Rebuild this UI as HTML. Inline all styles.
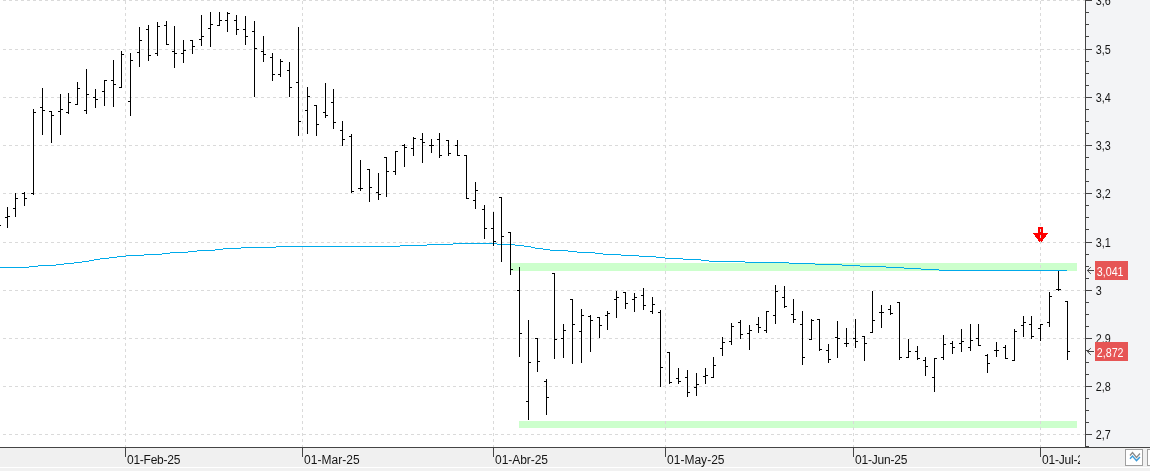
<!DOCTYPE html>
<html><head><meta charset="utf-8"><title>Chart</title>
<style>
html,body{margin:0;padding:0;background:#fff;}
body{width:1150px;height:471px;overflow:hidden;position:relative;font-family:"Liberation Sans",sans-serif;}
svg{position:absolute;left:0;top:0;display:block;}
.ax{font-family:"Liberation Sans",sans-serif;font-size:12.5px;fill:#151515;}
.dt{font-family:"Liberation Sans",sans-serif;font-size:12px;letter-spacing:-0.25px;fill:#151515;}
.tag{font-family:"Liberation Sans",sans-serif;font-size:12.5px;fill:#fff;}
</style></head><body>
<svg width="1150" height="471" viewBox="0 0 1150 471">

<rect x="0" y="0" width="1150" height="471" fill="#ffffff"/>
<rect x="1086" y="0" width="64" height="447" fill="#f3f4f6"/>
<rect x="0" y="448" width="1150" height="19" fill="#f0f0f0"/>
<rect x="0" y="467" width="1150" height="1" fill="#ffffff"/>
<rect x="0" y="468" width="1150" height="3" fill="#f1f1f1"/>
<rect x="511" y="263" width="566" height="8" fill="#ccffcc" shape-rendering="crispEdges"/>
<rect x="519" y="421" width="558" height="7" fill="#ccffcc" shape-rendering="crispEdges"/>
<g fill="#fe0000" shape-rendering="crispEdges"><rect x="1038" y="227" width="5" height="7"/>
<rect x="1033" y="233" width="15" height="1"/>
<rect x="1034" y="234" width="13" height="1"/>
<rect x="1035" y="235" width="11" height="1"/>
<rect x="1035" y="236" width="11" height="1"/>
<rect x="1036" y="237" width="9" height="1"/>
<rect x="1037" y="238" width="7" height="1"/>
<rect x="1038" y="239" width="5" height="1"/>
<rect x="1038" y="240" width="5" height="1"/>
<rect x="1039" y="241" width="3" height="1"/>
</g>
<g shape-rendering="crispEdges" stroke="#dadada" stroke-width="1" stroke-dasharray="3 3" fill="none">
<line x1="3" y1="0.5" x2="1085" y2="0.5"/>
<line x1="3" y1="49.5" x2="1085" y2="49.5"/>
<line x1="3" y1="97.5" x2="1085" y2="97.5"/>
<line x1="3" y1="145.5" x2="1085" y2="145.5"/>
<line x1="3" y1="193.5" x2="1085" y2="193.5"/>
<line x1="3" y1="242.5" x2="1085" y2="242.5"/>
<line x1="3" y1="290.5" x2="1085" y2="290.5"/>
<line x1="3" y1="338.5" x2="1085" y2="338.5"/>
<line x1="3" y1="386.5" x2="1085" y2="386.5"/>
<line x1="3" y1="434.5" x2="1085" y2="434.5"/>
<line x1="125.5" y1="1" x2="125.5" y2="447"/>
<line x1="302.5" y1="1" x2="302.5" y2="447"/>
<line x1="493.5" y1="1" x2="493.5" y2="447"/>
<line x1="665.5" y1="1" x2="665.5" y2="447"/>
<line x1="853.5" y1="1" x2="853.5" y2="447"/>
<line x1="1040.5" y1="1" x2="1040.5" y2="447"/>
</g>
<g shape-rendering="crispEdges" fill="#00aaea">
<rect x="0" y="267" width="29" height="1"/>
<rect x="29" y="266" width="9" height="1"/>
<rect x="38" y="265" width="18" height="1"/>
<rect x="56" y="264" width="8" height="1"/>
<rect x="64" y="263" width="10" height="1"/>
<rect x="74" y="262" width="8" height="1"/>
<rect x="82" y="261" width="7" height="1"/>
<rect x="89" y="260" width="5" height="1"/>
<rect x="94" y="259" width="6" height="1"/>
<rect x="100" y="258" width="9" height="1"/>
<rect x="109" y="257" width="8" height="1"/>
<rect x="117" y="256" width="9" height="1"/>
<rect x="126" y="255" width="18" height="1"/>
<rect x="144" y="254" width="18" height="1"/>
<rect x="162" y="253" width="8" height="1"/>
<rect x="170" y="252" width="18" height="1"/>
<rect x="188" y="251" width="9" height="1"/>
<rect x="197" y="250" width="18" height="1"/>
<rect x="215" y="249" width="8" height="1"/>
<rect x="223" y="248" width="18" height="1"/>
<rect x="241" y="247" width="35" height="1"/>
<rect x="276" y="246" width="124" height="1"/>
<rect x="400" y="245" width="27" height="1"/>
<rect x="427" y="244" width="26" height="1"/>
<rect x="453" y="243" width="44" height="1"/>
<rect x="497" y="244" width="18" height="1"/>
<rect x="515" y="245" width="9" height="1"/>
<rect x="524" y="246" width="7" height="1"/>
<rect x="531" y="247" width="4" height="1"/>
<rect x="535" y="248" width="8" height="1"/>
<rect x="543" y="249" width="7" height="1"/>
<rect x="550" y="250" width="18" height="1"/>
<rect x="568" y="251" width="9" height="1"/>
<rect x="577" y="252" width="18" height="1"/>
<rect x="595" y="253" width="8" height="1"/>
<rect x="603" y="254" width="18" height="1"/>
<rect x="621" y="255" width="18" height="1"/>
<rect x="639" y="256" width="17" height="1"/>
<rect x="656" y="257" width="9" height="1"/>
<rect x="665" y="258" width="18" height="1"/>
<rect x="683" y="259" width="18" height="1"/>
<rect x="701" y="260" width="8" height="1"/>
<rect x="709" y="261" width="36" height="1"/>
<rect x="745" y="262" width="44" height="1"/>
<rect x="789" y="263" width="26" height="1"/>
<rect x="815" y="264" width="27" height="1"/>
<rect x="842" y="265" width="18" height="1"/>
<rect x="860" y="266" width="26" height="1"/>
<rect x="886" y="267" width="18" height="1"/>
<rect x="904" y="268" width="17" height="1"/>
<rect x="921" y="269" width="18" height="1"/>
<rect x="939" y="270" width="128" height="1"/>
</g>
<g shape-rendering="crispEdges" fill="#000000">
<rect x="-1" y="225" width="2" height="1"/>
<rect x="7" y="207" width="1" height="21"/><rect x="5" y="217" width="2" height="1"/><rect x="8" y="216" width="2" height="1"/>
<rect x="15" y="193" width="1" height="24"/><rect x="13" y="208" width="2" height="1"/><rect x="16" y="198" width="2" height="1"/>
<rect x="24" y="192" width="1" height="14"/><rect x="22" y="193" width="2" height="1"/><rect x="25" y="198" width="2" height="1"/>
<rect x="33" y="109" width="1" height="86"/><rect x="31" y="193" width="2" height="1"/><rect x="34" y="112" width="2" height="1"/>
<rect x="42" y="88" width="1" height="47"/><rect x="40" y="107" width="2" height="1"/><rect x="43" y="110" width="2" height="1"/>
<rect x="51" y="111" width="1" height="32"/><rect x="49" y="111" width="2" height="1"/><rect x="52" y="115" width="2" height="1"/>
<rect x="60" y="94" width="1" height="41"/><rect x="58" y="111" width="2" height="1"/><rect x="61" y="109" width="2" height="1"/>
<rect x="68" y="93" width="1" height="21"/><rect x="66" y="112" width="2" height="1"/><rect x="69" y="102" width="2" height="1"/>
<rect x="77" y="82" width="1" height="23"/><rect x="75" y="104" width="2" height="1"/><rect x="78" y="88" width="2" height="1"/>
<rect x="86" y="69" width="1" height="45"/><rect x="84" y="110" width="2" height="1"/><rect x="87" y="94" width="2" height="1"/>
<rect x="95" y="89" width="1" height="19"/><rect x="93" y="97" width="2" height="1"/><rect x="96" y="99" width="2" height="1"/>
<rect x="104" y="80" width="1" height="26"/><rect x="102" y="91" width="2" height="1"/><rect x="105" y="80" width="2" height="1"/>
<rect x="113" y="60" width="1" height="47"/><rect x="111" y="80" width="2" height="1"/><rect x="114" y="84" width="2" height="1"/>
<rect x="121" y="51" width="1" height="37"/><rect x="119" y="87" width="2" height="1"/><rect x="122" y="54" width="2" height="1"/>
<rect x="130" y="53" width="1" height="63"/><rect x="128" y="101" width="2" height="1"/><rect x="131" y="60" width="2" height="1"/>
<rect x="139" y="27" width="1" height="40"/><rect x="137" y="52" width="2" height="1"/><rect x="140" y="40" width="2" height="1"/>
<rect x="148" y="25" width="1" height="36"/><rect x="146" y="29" width="2" height="1"/><rect x="149" y="55" width="2" height="1"/>
<rect x="157" y="22" width="1" height="34"/><rect x="155" y="53" width="2" height="1"/><rect x="158" y="26" width="2" height="1"/>
<rect x="166" y="21" width="1" height="24"/><rect x="164" y="25" width="2" height="1"/><rect x="167" y="44" width="2" height="1"/>
<rect x="174" y="26" width="1" height="42"/><rect x="172" y="51" width="2" height="1"/><rect x="175" y="53" width="2" height="1"/>
<rect x="183" y="40" width="1" height="23"/><rect x="181" y="53" width="2" height="1"/><rect x="184" y="50" width="2" height="1"/>
<rect x="192" y="40" width="1" height="14"/><rect x="190" y="40" width="2" height="1"/><rect x="193" y="46" width="2" height="1"/>
<rect x="201" y="15" width="1" height="31"/><rect x="199" y="39" width="2" height="1"/><rect x="202" y="36" width="2" height="1"/>
<rect x="210" y="12" width="1" height="35"/><rect x="208" y="28" width="2" height="1"/><rect x="211" y="24" width="2" height="1"/>
<rect x="219" y="12" width="1" height="14"/><rect x="217" y="25" width="2" height="1"/><rect x="220" y="20" width="2" height="1"/>
<rect x="227" y="12" width="1" height="20"/><rect x="225" y="20" width="2" height="1"/><rect x="228" y="13" width="2" height="1"/>
<rect x="236" y="15" width="1" height="20"/><rect x="234" y="20" width="2" height="1"/><rect x="237" y="29" width="2" height="1"/>
<rect x="245" y="16" width="1" height="29"/><rect x="243" y="29" width="2" height="1"/><rect x="246" y="36" width="2" height="1"/>
<rect x="254" y="21" width="1" height="76"/><rect x="252" y="31" width="2" height="1"/><rect x="255" y="48" width="2" height="1"/>
<rect x="263" y="36" width="1" height="26"/><rect x="261" y="51" width="2" height="1"/><rect x="264" y="54" width="2" height="1"/>
<rect x="272" y="53" width="1" height="28"/><rect x="270" y="57" width="2" height="1"/><rect x="273" y="74" width="2" height="1"/>
<rect x="280" y="59" width="1" height="18"/><rect x="278" y="74" width="2" height="1"/><rect x="281" y="61" width="2" height="1"/>
<rect x="289" y="62" width="1" height="35"/><rect x="287" y="70" width="2" height="1"/><rect x="290" y="87" width="2" height="1"/>
<rect x="298" y="27" width="1" height="109"/><rect x="296" y="82" width="2" height="1"/><rect x="299" y="121" width="2" height="1"/>
<rect x="307" y="87" width="1" height="47"/><rect x="305" y="110" width="2" height="1"/><rect x="308" y="96" width="2" height="1"/>
<rect x="316" y="105" width="1" height="31"/><rect x="314" y="105" width="2" height="1"/><rect x="317" y="124" width="2" height="1"/>
<rect x="325" y="83" width="1" height="35"/><rect x="323" y="112" width="2" height="1"/><rect x="326" y="115" width="2" height="1"/>
<rect x="333" y="89" width="1" height="40"/><rect x="331" y="102" width="2" height="1"/><rect x="334" y="122" width="2" height="1"/>
<rect x="342" y="121" width="1" height="25"/><rect x="340" y="130" width="2" height="1"/><rect x="343" y="139" width="2" height="1"/>
<rect x="351" y="134" width="1" height="59"/><rect x="349" y="136" width="2" height="1"/><rect x="352" y="191" width="2" height="1"/>
<rect x="360" y="160" width="1" height="31"/><rect x="358" y="188" width="2" height="1"/><rect x="361" y="188" width="2" height="1"/>
<rect x="369" y="169" width="1" height="33"/><rect x="367" y="169" width="2" height="1"/><rect x="370" y="187" width="2" height="1"/>
<rect x="378" y="173" width="1" height="27"/><rect x="376" y="192" width="2" height="1"/><rect x="379" y="194" width="2" height="1"/>
<rect x="386" y="157" width="1" height="40"/><rect x="384" y="157" width="2" height="1"/><rect x="387" y="171" width="2" height="1"/>
<rect x="395" y="151" width="1" height="24"/><rect x="393" y="171" width="2" height="1"/><rect x="396" y="151" width="2" height="1"/>
<rect x="404" y="144" width="1" height="23"/><rect x="402" y="145" width="2" height="1"/><rect x="405" y="147" width="2" height="1"/>
<rect x="413" y="137" width="1" height="19"/><rect x="411" y="148" width="2" height="1"/><rect x="414" y="138" width="2" height="1"/>
<rect x="422" y="133" width="1" height="30"/><rect x="420" y="139" width="2" height="1"/><rect x="423" y="142" width="2" height="1"/>
<rect x="431" y="139" width="1" height="14"/><rect x="429" y="145" width="2" height="1"/><rect x="432" y="145" width="2" height="1"/>
<rect x="439" y="133" width="1" height="25"/><rect x="437" y="139" width="2" height="1"/><rect x="440" y="155" width="2" height="1"/>
<rect x="448" y="140" width="1" height="16"/><rect x="446" y="140" width="2" height="1"/><rect x="449" y="153" width="2" height="1"/>
<rect x="457" y="140" width="1" height="16"/><rect x="455" y="145" width="2" height="1"/><rect x="458" y="155" width="2" height="1"/>
<rect x="466" y="155" width="1" height="44"/><rect x="464" y="155" width="2" height="1"/><rect x="467" y="198" width="2" height="1"/>
<rect x="475" y="182" width="1" height="27"/><rect x="473" y="200" width="2" height="1"/><rect x="476" y="190" width="2" height="1"/>
<rect x="484" y="205" width="1" height="34"/><rect x="482" y="209" width="2" height="1"/><rect x="485" y="228" width="2" height="1"/>
<rect x="493" y="212" width="1" height="34"/><rect x="491" y="228" width="2" height="1"/><rect x="494" y="241" width="2" height="1"/>
<rect x="501" y="197" width="1" height="65"/><rect x="499" y="197" width="2" height="1"/><rect x="502" y="236" width="2" height="1"/>
<rect x="510" y="232" width="1" height="43"/><rect x="508" y="232" width="2" height="1"/><rect x="511" y="269" width="2" height="1"/>
<rect x="519" y="267" width="1" height="90"/><rect x="517" y="290" width="2" height="1"/><rect x="520" y="333" width="2" height="1"/>
<rect x="528" y="320" width="1" height="100"/><rect x="526" y="401" width="2" height="1"/><rect x="529" y="362" width="2" height="1"/>
<rect x="537" y="338" width="1" height="34"/><rect x="535" y="338" width="2" height="1"/><rect x="538" y="361" width="2" height="1"/>
<rect x="546" y="379" width="1" height="36"/><rect x="544" y="381" width="2" height="1"/><rect x="547" y="397" width="2" height="1"/>
<rect x="554" y="273" width="1" height="86"/><rect x="552" y="273" width="2" height="1"/><rect x="555" y="339" width="2" height="1"/>
<rect x="563" y="324" width="1" height="34"/><rect x="561" y="338" width="2" height="1"/><rect x="564" y="330" width="2" height="1"/>
<rect x="572" y="299" width="1" height="65"/><rect x="570" y="299" width="2" height="1"/><rect x="573" y="324" width="2" height="1"/>
<rect x="581" y="309" width="1" height="54"/><rect x="579" y="331" width="2" height="1"/><rect x="582" y="315" width="2" height="1"/>
<rect x="590" y="315" width="1" height="37"/><rect x="588" y="316" width="2" height="1"/><rect x="591" y="320" width="2" height="1"/>
<rect x="599" y="317" width="1" height="21"/><rect x="597" y="317" width="2" height="1"/><rect x="600" y="325" width="2" height="1"/>
<rect x="607" y="311" width="1" height="19"/><rect x="605" y="315" width="2" height="1"/><rect x="608" y="313" width="2" height="1"/>
<rect x="616" y="291" width="1" height="27"/><rect x="614" y="299" width="2" height="1"/><rect x="617" y="297" width="2" height="1"/>
<rect x="625" y="292" width="1" height="17"/><rect x="623" y="292" width="2" height="1"/><rect x="626" y="303" width="2" height="1"/>
<rect x="634" y="293" width="1" height="19"/><rect x="632" y="299" width="2" height="1"/><rect x="635" y="297" width="2" height="1"/>
<rect x="643" y="288" width="1" height="22"/><rect x="641" y="295" width="2" height="1"/><rect x="644" y="305" width="2" height="1"/>
<rect x="652" y="297" width="1" height="17"/><rect x="650" y="311" width="2" height="1"/><rect x="653" y="304" width="2" height="1"/>
<rect x="660" y="310" width="1" height="77"/><rect x="658" y="312" width="2" height="1"/><rect x="661" y="367" width="2" height="1"/>
<rect x="669" y="352" width="1" height="32"/><rect x="667" y="352" width="2" height="1"/><rect x="670" y="382" width="2" height="1"/>
<rect x="678" y="368" width="1" height="16"/><rect x="676" y="378" width="2" height="1"/><rect x="679" y="381" width="2" height="1"/>
<rect x="687" y="370" width="1" height="27"/><rect x="685" y="377" width="2" height="1"/><rect x="688" y="392" width="2" height="1"/>
<rect x="696" y="373" width="1" height="23"/><rect x="694" y="387" width="2" height="1"/><rect x="697" y="384" width="2" height="1"/>
<rect x="705" y="368" width="1" height="16"/><rect x="703" y="376" width="2" height="1"/><rect x="706" y="375" width="2" height="1"/>
<rect x="713" y="357" width="1" height="21"/><rect x="711" y="377" width="2" height="1"/><rect x="714" y="365" width="2" height="1"/>
<rect x="722" y="337" width="1" height="19"/><rect x="720" y="348" width="2" height="1"/><rect x="723" y="342" width="2" height="1"/>
<rect x="731" y="323" width="1" height="22"/><rect x="729" y="341" width="2" height="1"/><rect x="732" y="326" width="2" height="1"/>
<rect x="740" y="320" width="1" height="19"/><rect x="738" y="322" width="2" height="1"/><rect x="741" y="334" width="2" height="1"/>
<rect x="749" y="325" width="1" height="25"/><rect x="747" y="333" width="2" height="1"/><rect x="750" y="330" width="2" height="1"/>
<rect x="758" y="317" width="1" height="16"/><rect x="756" y="324" width="2" height="1"/><rect x="759" y="327" width="2" height="1"/>
<rect x="766" y="311" width="1" height="22"/><rect x="764" y="330" width="2" height="1"/><rect x="767" y="311" width="2" height="1"/>
<rect x="775" y="285" width="1" height="39"/><rect x="773" y="315" width="2" height="1"/><rect x="776" y="291" width="2" height="1"/>
<rect x="784" y="286" width="1" height="22"/><rect x="782" y="297" width="2" height="1"/><rect x="785" y="306" width="2" height="1"/>
<rect x="793" y="299" width="1" height="24"/><rect x="791" y="314" width="2" height="1"/><rect x="794" y="319" width="2" height="1"/>
<rect x="802" y="311" width="1" height="54"/><rect x="800" y="324" width="2" height="1"/><rect x="803" y="357" width="2" height="1"/>
<rect x="811" y="319" width="1" height="21"/><rect x="809" y="339" width="2" height="1"/><rect x="812" y="320" width="2" height="1"/>
<rect x="819" y="319" width="1" height="32"/><rect x="817" y="319" width="2" height="1"/><rect x="820" y="349" width="2" height="1"/>
<rect x="828" y="344" width="1" height="19"/><rect x="826" y="350" width="2" height="1"/><rect x="829" y="359" width="2" height="1"/>
<rect x="837" y="321" width="1" height="37"/><rect x="835" y="337" width="2" height="1"/><rect x="838" y="338" width="2" height="1"/>
<rect x="846" y="328" width="1" height="19"/><rect x="844" y="343" width="2" height="1"/><rect x="847" y="343" width="2" height="1"/>
<rect x="855" y="319" width="1" height="29"/><rect x="853" y="338" width="2" height="1"/><rect x="856" y="341" width="2" height="1"/>
<rect x="864" y="336" width="1" height="25"/><rect x="862" y="336" width="2" height="1"/><rect x="865" y="343" width="2" height="1"/>
<rect x="872" y="291" width="1" height="42"/><rect x="870" y="332" width="2" height="1"/><rect x="873" y="320" width="2" height="1"/>
<rect x="881" y="305" width="1" height="23"/><rect x="879" y="312" width="2" height="1"/><rect x="882" y="312" width="2" height="1"/>
<rect x="890" y="305" width="1" height="10"/><rect x="888" y="309" width="2" height="1"/><rect x="891" y="313" width="2" height="1"/>
<rect x="899" y="302" width="1" height="58"/><rect x="897" y="302" width="2" height="1"/><rect x="900" y="357" width="2" height="1"/>
<rect x="908" y="339" width="1" height="19"/><rect x="906" y="357" width="2" height="1"/><rect x="909" y="351" width="2" height="1"/>
<rect x="917" y="346" width="1" height="14"/><rect x="915" y="351" width="2" height="1"/><rect x="918" y="358" width="2" height="1"/>
<rect x="925" y="357" width="1" height="19"/><rect x="923" y="360" width="2" height="1"/><rect x="926" y="366" width="2" height="1"/>
<rect x="934" y="358" width="1" height="34"/><rect x="932" y="377" width="2" height="1"/><rect x="935" y="358" width="2" height="1"/>
<rect x="943" y="335" width="1" height="25"/><rect x="941" y="357" width="2" height="1"/><rect x="944" y="344" width="2" height="1"/>
<rect x="952" y="341" width="1" height="13"/><rect x="950" y="343" width="2" height="1"/><rect x="953" y="347" width="2" height="1"/>
<rect x="961" y="329" width="1" height="23"/><rect x="959" y="343" width="2" height="1"/><rect x="962" y="341" width="2" height="1"/>
<rect x="970" y="324" width="1" height="27"/><rect x="968" y="347" width="2" height="1"/><rect x="971" y="340" width="2" height="1"/>
<rect x="978" y="324" width="1" height="22"/><rect x="976" y="338" width="2" height="1"/><rect x="979" y="345" width="2" height="1"/>
<rect x="987" y="354" width="1" height="19"/><rect x="985" y="355" width="2" height="1"/><rect x="988" y="363" width="2" height="1"/>
<rect x="996" y="342" width="1" height="15"/><rect x="994" y="350" width="2" height="1"/><rect x="997" y="350" width="2" height="1"/>
<rect x="1005" y="345" width="1" height="14"/><rect x="1003" y="347" width="2" height="1"/><rect x="1006" y="358" width="2" height="1"/>
<rect x="1014" y="329" width="1" height="32"/><rect x="1012" y="360" width="2" height="1"/><rect x="1015" y="331" width="2" height="1"/>
<rect x="1023" y="316" width="1" height="21"/><rect x="1021" y="325" width="2" height="1"/><rect x="1024" y="322" width="2" height="1"/>
<rect x="1031" y="316" width="1" height="23"/><rect x="1029" y="324" width="2" height="1"/><rect x="1032" y="336" width="2" height="1"/>
<rect x="1040" y="324" width="1" height="17"/><rect x="1038" y="328" width="2" height="1"/><rect x="1041" y="324" width="2" height="1"/>
<rect x="1049" y="292" width="1" height="35"/><rect x="1047" y="322" width="2" height="1"/><rect x="1050" y="296" width="2" height="1"/>
<rect x="1058" y="271" width="1" height="20"/><rect x="1056" y="289" width="2" height="1"/><rect x="1059" y="289" width="2" height="1"/>
<rect x="1067" y="301" width="1" height="59"/><rect x="1065" y="301" width="2" height="1"/><rect x="1068" y="351" width="2" height="1"/>
</g>
<g shape-rendering="crispEdges" fill="#444444">
<rect x="1085" y="0" width="1" height="448"/>
<rect x="0" y="447" width="1150" height="1"/>
<rect x="1086" y="0" width="6" height="1"/>
<rect x="1086" y="12" width="3" height="1"/>
<rect x="1086" y="24" width="3" height="1"/>
<rect x="1086" y="36" width="3" height="1"/>
<rect x="1086" y="49" width="6" height="1"/>
<rect x="1086" y="61" width="3" height="1"/>
<rect x="1086" y="73" width="3" height="1"/>
<rect x="1086" y="85" width="3" height="1"/>
<rect x="1086" y="97" width="6" height="1"/>
<rect x="1086" y="109" width="3" height="1"/>
<rect x="1086" y="121" width="3" height="1"/>
<rect x="1086" y="133" width="3" height="1"/>
<rect x="1086" y="145" width="6" height="1"/>
<rect x="1086" y="157" width="3" height="1"/>
<rect x="1086" y="169" width="3" height="1"/>
<rect x="1086" y="181" width="3" height="1"/>
<rect x="1086" y="193" width="6" height="1"/>
<rect x="1086" y="205" width="3" height="1"/>
<rect x="1086" y="217" width="3" height="1"/>
<rect x="1086" y="229" width="3" height="1"/>
<rect x="1086" y="242" width="6" height="1"/>
<rect x="1086" y="254" width="3" height="1"/>
<rect x="1086" y="266" width="3" height="1"/>
<rect x="1086" y="278" width="3" height="1"/>
<rect x="1086" y="290" width="6" height="1"/>
<rect x="1086" y="302" width="3" height="1"/>
<rect x="1086" y="314" width="3" height="1"/>
<rect x="1086" y="326" width="3" height="1"/>
<rect x="1086" y="338" width="6" height="1"/>
<rect x="1086" y="350" width="3" height="1"/>
<rect x="1086" y="362" width="3" height="1"/>
<rect x="1086" y="374" width="3" height="1"/>
<rect x="1086" y="386" width="6" height="1"/>
<rect x="1086" y="398" width="3" height="1"/>
<rect x="1086" y="410" width="3" height="1"/>
<rect x="1086" y="422" width="3" height="1"/>
<rect x="1086" y="434" width="6" height="1"/>
<rect x="1086" y="446" width="3" height="1"/>
<rect x="125" y="448" width="1" height="9"/>
<rect x="302" y="448" width="1" height="9"/>
<rect x="493" y="448" width="1" height="9"/>
<rect x="665" y="448" width="1" height="9"/>
<rect x="853" y="448" width="1" height="9"/>
<rect x="1040" y="448" width="1" height="9"/>
</g>
<text class="ax" transform="translate(1095.8 5) scale(0.864 1)">3,6</text>
<text class="ax" transform="translate(1095.8 54) scale(0.864 1)">3,5</text>
<text class="ax" transform="translate(1095.8 102) scale(0.864 1)">3,4</text>
<text class="ax" transform="translate(1095.8 150) scale(0.864 1)">3,3</text>
<text class="ax" transform="translate(1095.8 198) scale(0.864 1)">3,2</text>
<text class="ax" transform="translate(1095.8 247) scale(0.864 1)">3,1</text>
<text class="ax" transform="translate(1095.8 295) scale(0.864 1)">3</text>
<text class="ax" transform="translate(1095.8 343) scale(0.864 1)">2,9</text>
<text class="ax" transform="translate(1095.8 391) scale(0.864 1)">2,8</text>
<text class="ax" transform="translate(1095.8 439) scale(0.864 1)">2,7</text>
<text class="dt" x="127" y="464" style="letter-spacing:-0.25px">01-Feb-25</text>
<text class="dt" x="304" y="464" style="letter-spacing:0.03px">01-Mar-25</text>
<text class="dt" x="495" y="464" style="letter-spacing:-0.04px">01-Abr-25</text>
<text class="dt" x="667" y="464" style="letter-spacing:0.02px">01-May-25</text>
<text class="dt" x="855" y="464" style="letter-spacing:-0.2px">01-Jun-25</text>
<clipPath id="cj"><rect x="1040" y="448" width="40" height="19"/></clipPath>
<text class="dt" x="1042" y="464" style="letter-spacing:-0.2px" clip-path="url(#cj)">01-Jul-25</text>
<rect x="1095" y="261" width="33" height="19" fill="#e65555" shape-rendering="crispEdges"/>
<text class="tag" transform="translate(1096.8 276) scale(0.855 1)">3,041</text>
<path d="M1094 270.5H1087.3M1090.8 267.2L1087.3 270.5L1090.8 273.8" stroke="#444" stroke-width="1" fill="none"/>
<rect x="1095" y="342" width="33" height="19" fill="#e65555" shape-rendering="crispEdges"/>
<text class="tag" transform="translate(1096.8 357) scale(0.855 1)">2,872</text>
<path d="M1094 351.5H1087.3M1090.8 348.2L1087.3 351.5L1090.8 354.8" stroke="#444" stroke-width="1" fill="none"/>
<rect x="1125.5" y="449.5" width="17" height="16" fill="#fff" stroke="#a0a0a0" stroke-width="1"/>
<rect x="1147.5" y="449.5" width="17" height="16" fill="#fff" stroke="#a0a0a0" stroke-width="1"/>
<path d="M1130 455.5L1132.5 452.5L1136.5 457.5L1140 453.5" stroke="#8a8a8a" stroke-width="1.3" fill="none"/>
<path d="M1130 458.8L1132.5 456L1136.5 460.6L1140 456.9" stroke="#3c9bd8" stroke-width="1.4" fill="none"/>
</svg></body></html>
